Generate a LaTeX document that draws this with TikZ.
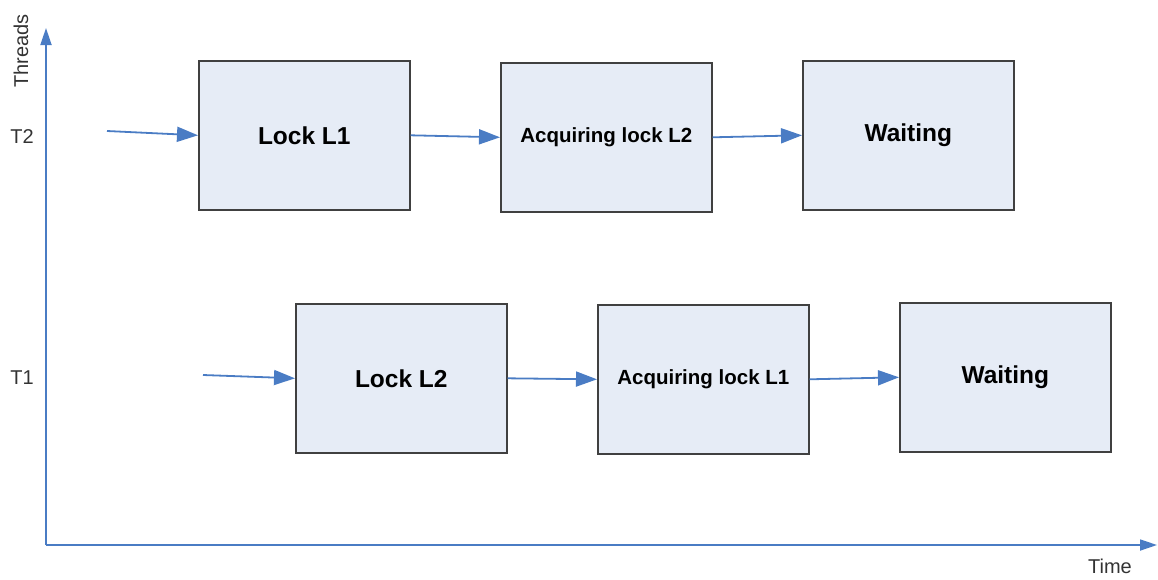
\documentclass[tikz,border=0pt]{standalone}
\usepackage{fontspec}
\setmainfont{Liberation Sans}
\usetikzlibrary{arrows.meta}
\definecolor{boxfill}{HTML}{E6ECF6}
\definecolor{boxline}{HTML}{404040}
\definecolor{flow}{HTML}{4A7CC4}
\tikzset{
  state/.style={draw=boxline, fill=boxfill, line width=1.6pt, minimum width=211pt,
    minimum height=149pt, inner sep=0pt, anchor=north west},
  big/.style={font=\fontsize{24.5}{28}\selectfont\bfseries},
  small/.style={font=\fontsize{20.5}{24}\selectfont\bfseries},
  flowarrow/.style={draw=flow, line width=1.8pt, -{Triangle[length=21pt,width=15pt]}},
  axis/.style={draw=flow, line width=1.8pt, -{Triangle[length=17pt,width=11pt]}},
  lbl/.style={font=\fontsize{20}{24}\selectfont, text=black!80, inner sep=0pt}
}
\begin{document}
\begin{tikzpicture}[x=1pt, y=-1pt]
\useasboundingbox (0,0) rectangle (1158,579);
% axes
\coordinate (o) at (46,545);
\coordinate (ytop) at (46,28);
\coordinate (xend) at (1157,545);
\draw[axis] (o) -- (ytop);
\draw[axis] (o) -- (xend);
\node[lbl, rotate=90] (threads) at (21,51) {Threads};
\node[lbl] (time) at (1110,566) {Time};
\node[lbl] (t2) at (22,137) {T2};
\node[lbl] (t1) at (22,378) {T1};
% thread T2
\node[state, big] (l1) at (198,60) {Lock L1};
\node[state, small] (a2) at (500,62) {Acquiring lock L2};
\node[state, big] (w2) at (802,60) {Waiting};
% thread T1
\node[state, big] (l2) at (295,303) {Lock L2};
\node[state, small] (a1) at (597,304) {Acquiring lock L1};
\node[state, big] (w1) at (899,302) {Waiting};
% flow
\coordinate (s2) at (107,131);
\coordinate (s1) at (203,375);
\draw[flowarrow] (s2) -- (l1.west);
\draw[flowarrow] (l1.east) -- (a2.west);
\draw[flowarrow] (a2.east) -- (w2.west);
\draw[flowarrow] (s1) -- (l2.west);
\draw[flowarrow] (l2.east) -- (a1.west);
\draw[flowarrow] (a1.east) -- (w1.west);
\end{tikzpicture}
\end{document}
